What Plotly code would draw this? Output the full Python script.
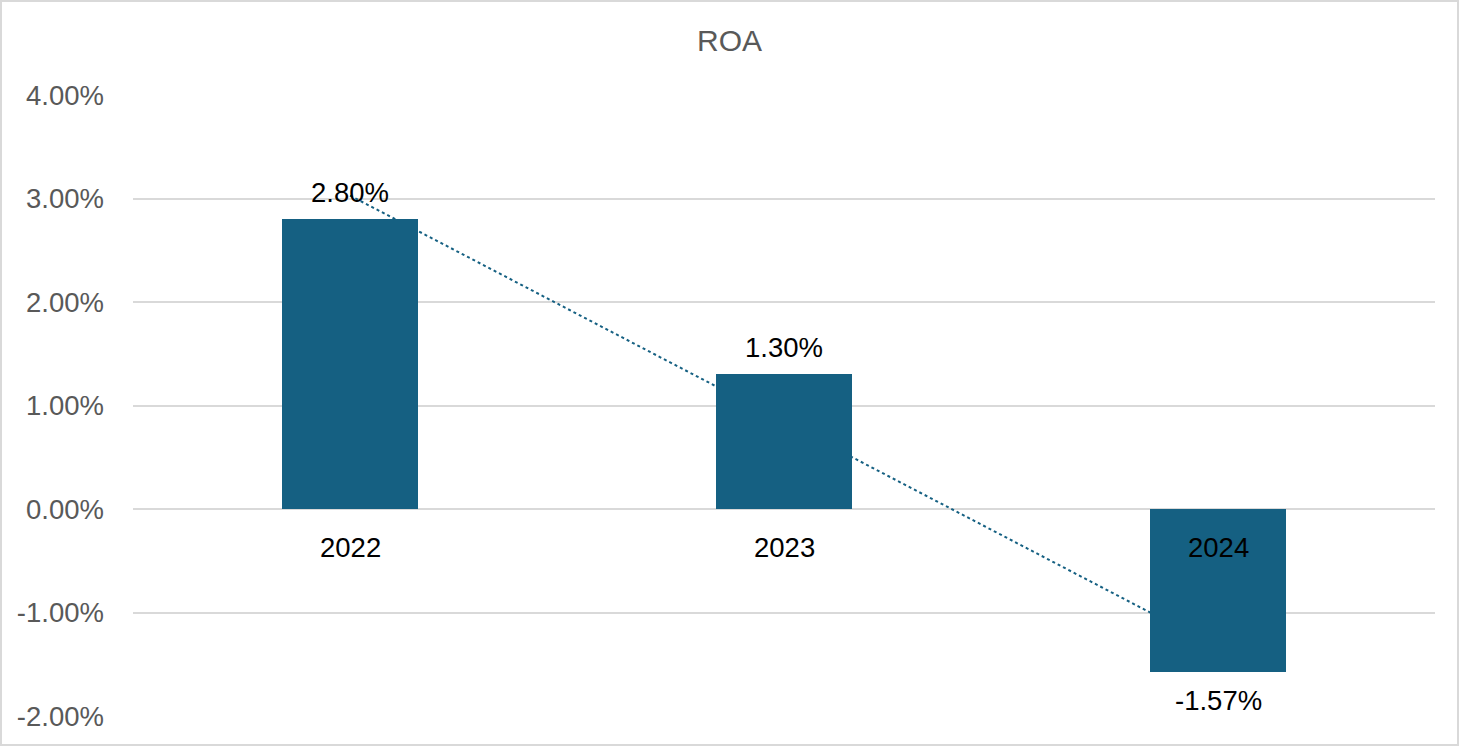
import numpy as np
import plotly.graph_objects as go

# ---- data ----
categories = ["2022", "2023", "2024"]
roa_values = [2.80, 1.30, -1.57]          # percent
y_tick_values = [-2, -1, 0, 1, 2, 3, 4]
y_tick_labels = ["-2.00%", "-1.00%", "0.00%", "1.00%", "2.00%", "3.00%", "4.00%"]
title_text = "ROA"

BAR_COLOR = "#156082"
GRID = "#d9d9d9"
GRAY_TEXT = "#595959"
FONT = "Liberation Sans, Arial, sans-serif"

xi = np.arange(len(categories))
slope, intercept = np.polyfit(xi, np.array(roa_values), 1)
trend_y = slope * xi + intercept

fig = go.Figure()

# linear trendline (drawn on the base subplot so the bars cover it)
fig.add_trace(go.Scatter(
    x=xi, y=trend_y, mode="lines",
    line=dict(color=BAR_COLOR, width=2, dash="dot"),
    xaxis="x", yaxis="y", showlegend=False, hoverinfo="skip",
))

# bars on an overlaid subplot (drawn above the trendline)
fig.add_trace(go.Bar(
    x=xi, y=roa_values, width=0.313,
    marker=dict(color=BAR_COLOR, line=dict(width=0)),
    xaxis="x2", yaxis="y2", showlegend=False,
))

LABEL_SIZE = 27.5

annotations = []
# data labels
for i, v in enumerate(roa_values):
    annotations.append(dict(
        x=i, y=v, xref="x", yref="y", text=f"{v:.2f}%", showarrow=False,
        yanchor="middle", xanchor="center",
        yshift=27 if v >= 0 else -28.5,
        font=dict(family=FONT, size=LABEL_SIZE, color="#000000"),
    ))
# category labels just below the zero line
for i, c in enumerate(categories):
    annotations.append(dict(
        x=i, y=0, xref="x", yref="y", text=c, showarrow=False,
        yanchor="middle", xanchor="center", yshift=-38.5,
        font=dict(family=FONT, size=LABEL_SIZE, color="#000000"),
    ))

W, H = 1459, 746
ml, mr, mt, mb = 133, 24, 95, 30
pw, ph = W - ml - mr, H - mt - mb

# outer light-gray border
shapes = [dict(
    type="rect", xref="paper", yref="paper",
    x0=-(ml - 1) / pw, x1=1 + (mr - 1) / pw,
    y0=-(mb - 1) / ph, y1=1 + (mt - 1) / ph,
    line=dict(color=GRID, width=2), fillcolor="rgba(0,0,0,0)", layer="below",
)]

xrange = [-0.5, len(categories) - 0.5]
yrange = [-2, 4]

fig.update_layout(
    width=W, height=H,
    margin=dict(l=ml, r=mr, t=mt, b=mb, pad=0),
    paper_bgcolor="white", plot_bgcolor="white",
    title=dict(text=title_text, x=0.5, xref="container", xanchor="center",
               y=1 - 40 / H, yref="container", yanchor="middle",
               font=dict(family=FONT, size=30, color=GRAY_TEXT)),
    xaxis=dict(range=xrange, showgrid=False, showticklabels=False,
               zeroline=False, showline=False, fixedrange=True),
    yaxis=dict(range=yrange, tickvals=y_tick_values, ticktext=y_tick_labels,
               showgrid=True, gridcolor=GRID, gridwidth=1.5,
               zeroline=False, showline=False, ticks="",
               ticklabelstandoff=28,
               tickfont=dict(family=FONT, size=LABEL_SIZE, color=GRAY_TEXT)),
    xaxis2=dict(range=xrange, overlaying="x", showgrid=False,
                showticklabels=False, zeroline=False, showline=False),
    yaxis2=dict(range=yrange, overlaying="y", showgrid=False,
                showticklabels=False, zeroline=False, showline=False),
    annotations=annotations,
    shapes=shapes,
    bargap=0,
)

fig.write_html(
    "out.html",
    config={"displayModeBar": False},
    post_script="document.body.style.margin='0';document.body.style.overflow='hidden';",
)
